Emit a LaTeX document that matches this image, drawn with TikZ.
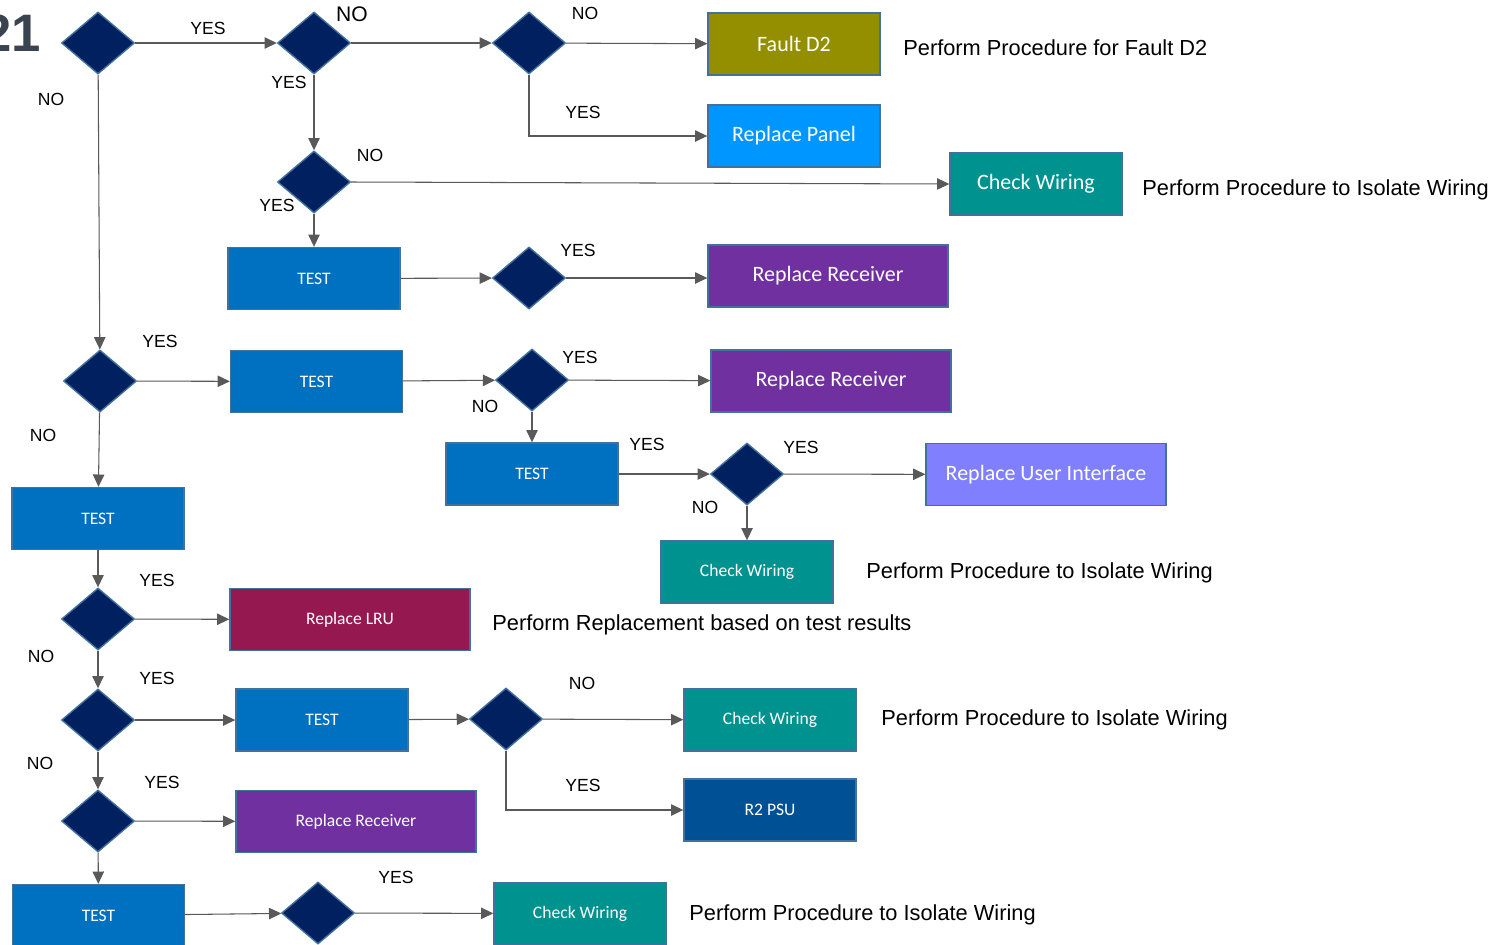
\documentclass[tikz,border=0pt]{standalone}
\usepackage{fontspec}
\setmainfont{Liberation Sans}
\newfontfamily\boxfont{Carlito}
\usepackage{tikz}
\usetikzlibrary{arrows.meta,shapes.geometric}

\definecolor{navy}{RGB}{0,32,96}
\definecolor{edgeblue}{RGB}{65,113,156}
\definecolor{testblue}{RGB}{0,112,192}
\definecolor{faultolive}{RGB}{148,143,0}
\definecolor{panelblue}{RGB}{0,150,255}
\definecolor{wireteal}{RGB}{0,146,143}
\definecolor{recvpurple}{RGB}{112,48,160}
\definecolor{uiblue}{RGB}{128,128,255}
\definecolor{lrured}{RGB}{150,24,80}
\definecolor{psublue}{RGB}{0,80,150}
\definecolor{linegray}{RGB}{89,89,89}
\definecolor{numgray}{RGB}{58,68,80}

\begin{document}
\begin{tikzpicture}[x=0.02cm, y=-0.02cm,
    decision/.style={diamond, draw=edgeblue, line width=0.8pt, fill=navy, inner sep=0pt, minimum width=1.46cm, minimum height=1.24cm},
    act/.style={rectangle, draw=edgeblue, line width=0.8pt, text=white, minimum width=3.44cm, minimum height=1.24cm, font=\boxfont\fontsize{12.5}{15}\selectfont},
    small/.style={font=\boxfont\fontsize{10}{12}\selectfont},
    wide/.style={minimum width=4.8cm},
    lbl/.style={font=\fontsize{10}{12}\selectfont, inner sep=0pt},
    note/.style={font=\fontsize{12.4}{15}\selectfont, anchor=west, inner sep=0pt},
    flow/.style={->, >={Triangle[length=7pt,width=6.5pt]}, linegray, line width=0.6pt}]

    \useasboundingbox[fill=white] (0,0) rectangle (1496,944);

    % Title number, cut at the left edge
    \node[anchor=east, inner sep=0pt, text=numgray, font=\bfseries\fontsize{30}{30}\selectfont] (num) at (41,33) {21};

    % Decisions
    \node[decision] (D1) at (98,43) {};
    \node[decision] (D2) at (314,43) {};
    \node[decision] (D3) at (529,43) {};
    \node[decision] (D4) at (314,182) {};
    \node[decision] (D5) at (529,278) {};
    \node[decision] (D6) at (100,381) {};
    \node[decision] (D7) at (532,380) {};
    \node[decision] (D8) at (747,474) {};
    \node[decision] (D9) at (98,619) {};
    \node[decision] (D10) at (98,720) {};
    \node[decision] (D11) at (506,719) {};
    \node[decision] (D12) at (98,821) {};
    \node[decision] (D13) at (318,913) {};

    % Actions
    \node[act, fill=faultolive] (FD2) at (794,44) {Fault D2};
    \node[act, fill=panelblue] (RP) at (794,136) {Replace Panel};
    \node[act, fill=wireteal] (CW1) at (1036,184) {Check Wiring};
    \node[act, small, fill=testblue] (T1) at (314,278.5) {TEST};
    \node[act, wide, fill=recvpurple] (RR1) at (828,276) {Replace Receiver};
    \node[act, small, fill=testblue] (T2) at (316.5,381.5) {TEST};
    \node[act, wide, fill=recvpurple] (RR2) at (831,381) {Replace Receiver};
    \node[act, small, fill=testblue] (T3) at (532,474) {TEST};
    \node[act, wide, fill=uiblue] (RUI) at (1046,474.5) {Replace User Interface};
    \node[act, small, fill=wireteal] (CW2) at (747,572) {Check Wiring};
    \node[act, small, fill=testblue] (T4) at (98,518.5) {TEST};
    \node[act, small, wide, fill=lrured] (LRU) at (350,619.5) {Replace LRU};
    \node[act, small, fill=testblue] (T5) at (322,720) {TEST};
    \node[act, small, fill=wireteal] (CW3) at (770,720) {Check Wiring};
    \node[act, small, fill=psublue] (PSU) at (770,810) {R2 PSU};
    \node[act, small, wide, fill=recvpurple] (RR3) at (356,821.5) {Replace Receiver};
    \node[act, small, fill=testblue] (T6) at (98.5,915.5) {TEST};
    \node[act, small, fill=wireteal] (CW4) at (580,913.5) {Check Wiring};

    % Notes
    \node[note] (n1) at (903,48) {Perform Procedure for Fault D2};
    \node[note] (n2) at (1142,190) {Perform Procedure to Isolate Wiring};
    \node[note] (n3) at (866,573) {Perform Procedure to Isolate Wiring};
    \node[note] (n4) at (492,625) {Perform Replacement based on test results};
    \node[note] (n5) at (881,720) {Perform Procedure to Isolate Wiring};
    \node[note] (n6) at (689,915) {Perform Procedure to Isolate Wiring};

    % Branch labels
    \node[lbl] (y1) at (208,28) {YES};
    \node[lbl, font=\fontsize{12}{14}\selectfont] (no1) at (352,14) {NO};
    \node[lbl] (no2) at (585,13) {NO};
    \node[lbl] (y2) at (289,82) {YES};
    \node[lbl] (no3) at (51,99) {NO};
    \node[lbl] (y3) at (583,112) {YES};
    \node[lbl] (no4) at (370,155) {NO};
    \node[lbl] (y4) at (277,205) {YES};
    \node[lbl] (y5) at (578,250) {YES};
    \node[lbl] (y6) at (160,341) {YES};
    \node[lbl] (y7) at (580,357) {YES};
    \node[lbl] (no5) at (485,406) {NO};
    \node[lbl] (no6) at (43,435) {NO};
    \node[lbl] (y8) at (647,444) {YES};
    \node[lbl] (y9) at (801,447) {YES};
    \node[lbl] (no7) at (705,507) {NO};
    \node[lbl] (y10) at (157,580) {YES};
    \node[lbl] (no8) at (41,656) {NO};
    \node[lbl] (y11) at (157,678) {YES};
    \node[lbl] (no9) at (582,683) {NO};
    \node[lbl] (no10) at (40,763) {NO};
    \node[lbl] (y12) at (162,782) {YES};
    \node[lbl] (y13) at (583,785) {YES};
    \node[lbl] (y14) at (396,877) {YES};

    % Connectors
    \path[flow]
    (D1) edge (D2)
    (D2) edge (D3)
    (D3) edge (FD2)
    (D2) edge (D4)
    (D4.east) edge (CW1.west)
    (D4) edge (T1)
    (T1) edge (D5)
    (D5.east) edge (RR1.west |- D5.east)
    (D1) edge (D6)
    (D6) edge (T2)
    (T2) edge (D7)
    (D7) edge (RR2)
    (D7) edge (T3)
    (T3) edge (D8)
    (D8) edge (RUI)
    (D8) edge (CW2)
    (D6) edge (T4)
    (T4) edge (D9)
    (D9) edge (LRU)
    (D9) edge (D10)
    (D10) edge (T5)
    (T5) edge (D11)
    (D11) edge (CW3)
    (D10) edge (D12)
    (D12) edge (RR3)
    (D12) edge (T6)
    (T6) edge (D13)
    (D13) edge (CW4);
    \draw[flow] (D3.south) |- (RP.west);
    \draw[flow] (D11.south) |- (PSU.west);

\end{tikzpicture}
\end{document}
